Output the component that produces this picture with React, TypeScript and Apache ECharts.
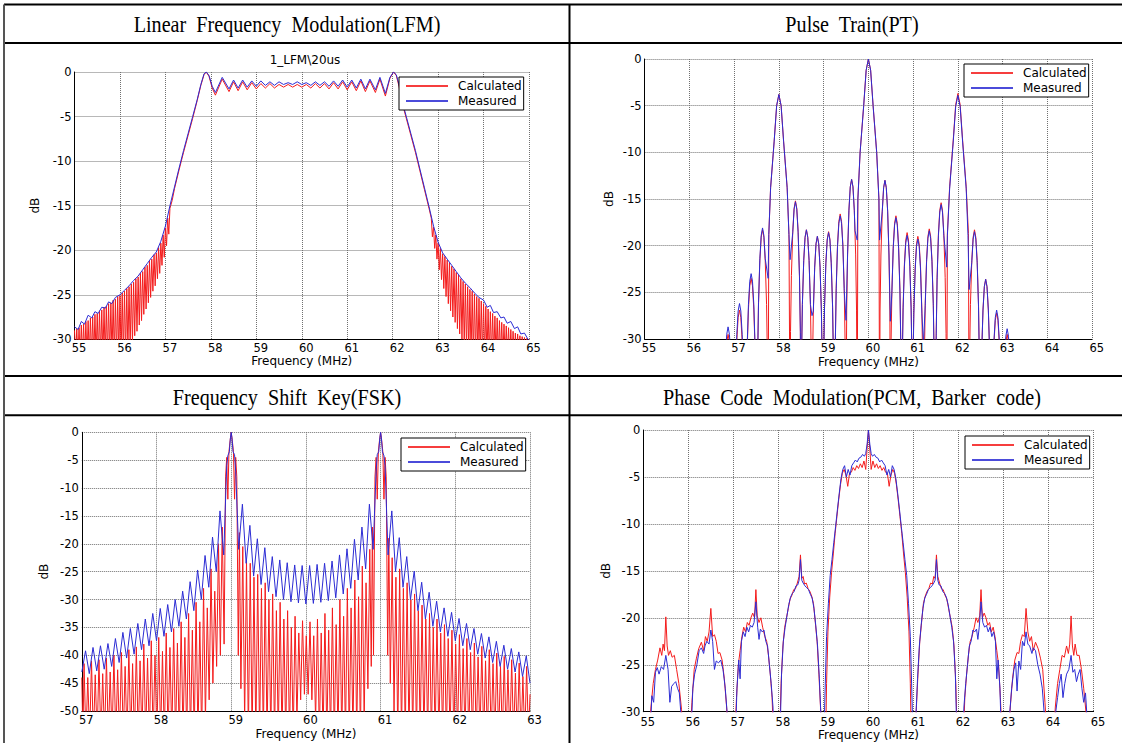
import React, { useEffect, useRef } from "react";
import * as echarts from "echarts";

type Pt = [number, number];

const RED = "#f41c1c";
const BLUE = "#2c2cd4";
const SERIES_NAMES = ["Calculated", "Measured"];

// ---------- Panel titles ----------
const panelTitles = [
  "Linear\u00a0 Frequency\u00a0 Modulation(LFM)",
  "Pulse\u00a0 Train(PT)",
  "Frequency\u00a0 Shift\u00a0 Key(FSK)",
  "Phase\u00a0 Code\u00a0 Modulation(PCM,\u00a0 Barker\u00a0 code)",
];
const lfmPlotTitle = "1_LFM\\20us";

// ---------- Axis ranges ----------
const lfmFreq = [55, 65];
const lfmDb = [-30, 0];
const ptFreq = [55, 65];
const ptDb = [-30, 0];
const fskFreq = [57, 63];
const fskDb = [-50, 0];
const pcmFreq = [55, 65];
const pcmDb = [-30, 0];

// ---------- LFM ----------
const lfmCalculated: Pt[] = [
  [55.0, -29.0], [55.025, -32], [55.05, -28.8], [55.075, -32], [55.1, -28.7], [55.125, -32], [55.15, -28.4], [55.175, -32],
  [55.2, -28.3], [55.225, -32], [55.25, -28.0], [55.275, -32], [55.3, -27.9], [55.325, -32], [55.35, -27.6], [55.375, -32],
  [55.4, -27.5], [55.425, -32], [55.45, -27.2], [55.475, -32], [55.5, -27.1], [55.525, -32], [55.55, -26.8], [55.575, -32],
  [55.6, -26.7], [55.625, -32], [55.65, -26.4], [55.675, -32], [55.7, -26.3], [55.725, -32], [55.75, -26.0], [55.775, -32],
  [55.8, -25.9], [55.825, -32], [55.85, -25.6], [55.875, -32], [55.9, -25.5], [55.925, -32], [55.95, -25.2], [55.975, -32],
  [56.0, -25.1], [56.025, -32], [56.05, -24.8], [56.075, -32], [56.1, -24.6], [56.125, -32], [56.15, -24.3], [56.175, -31.5],
  [56.2, -24.1], [56.225, -31], [56.25, -23.8], [56.275, -30.4], [56.3, -23.6], [56.325, -29.6], [56.35, -23.2], [56.375, -29.1],
  [56.4, -23.0], [56.425, -28.4], [56.45, -22.6], [56.475, -27.9], [56.5, -22.4], [56.525, -27.2], [56.55, -21.9], [56.575, -26.6],
  [56.6, -21.7], [56.625, -25.9], [56.65, -21.2], [56.675, -25.3], [56.7, -21.0], [56.725, -24.6], [56.75, -20.5], [56.775, -24.0],
  [56.8, -20.3], [56.825, -23.2], [56.85, -19.7], [56.875, -22.6], [56.9, -19.2], [56.925, -21.7], [56.95, -18.3], [56.975, -20.8],
  [57.0, -17.5], [57.025, -19.5], [57.05, -16.4], [57.075, -18.2], [57.1, -15.3], [57.15, -14.4], [57.2, -13.1], [57.3, -11.0],
  [57.4, -9.0], [57.5, -7.1], [57.6, -5.2], [57.7, -3.2], [57.78, -1.5], [57.85, -0.3], [57.9, 0], [57.96, -0.5],
  [58.03, -1.8], [58.1, -2.6], [58.25, -0.8], [58.4, -2.2], [58.5, -1.1], [58.6, -2.1], [58.7, -1.1], [58.8, -2.0],
  [58.9, -1.2], [59.0, -1.9], [59.1, -1.3], [59.2, -1.8], [59.3, -1.3], [59.4, -1.8], [59.5, -1.4], [59.6, -1.7],
  [59.7, -1.4], [59.8, -1.7], [59.9, -1.4], [60.0, -1.7], [60.1, -1.4], [60.2, -1.8], [60.3, -1.3], [60.4, -1.8],
  [60.5, -1.3], [60.6, -1.9], [60.7, -1.2], [60.8, -1.9], [60.9, -1.1], [61.0, -2.0], [61.1, -1.1], [61.2, -2.1],
  [61.3, -1.0], [61.4, -2.2], [61.5, -1.0], [61.62, -2.3], [61.72, -0.8], [61.84, -2.7], [61.94, -0.7], [62.02, 0],
  [62.08, -0.4], [62.14, -1.6], [62.2, -3.3], [62.3, -5.2], [62.4, -7.1], [62.5, -9.0], [62.6, -11.1], [62.7, -13.2],
  [62.8, -15.3], [62.85, -16.4], [62.875, -18.5], [62.9, -17.4], [62.925, -19.8], [62.95, -18.3], [62.975, -21.0], [63.0, -19.2],
  [63.025, -22.2], [63.05, -19.8], [63.075, -23.3], [63.1, -20.4], [63.125, -24.3], [63.15, -20.7], [63.175, -25.2], [63.2, -21.1],
  [63.225, -26.0], [63.25, -21.4], [63.275, -26.8], [63.3, -21.8], [63.325, -27.5], [63.35, -22.1], [63.375, -28.1], [63.4, -22.5],
  [63.425, -28.8], [63.45, -22.8], [63.475, -29.4], [63.5, -23.2], [63.525, -30.0], [63.55, -23.5], [63.575, -30.6], [63.6, -23.8],
  [63.625, -31.2], [63.65, -24.1], [63.675, -31.7], [63.7, -24.4], [63.725, -32], [63.75, -24.6], [63.775, -32], [63.8, -24.9],
  [63.825, -32], [63.85, -25.2], [63.875, -32], [63.9, -25.4], [63.925, -32], [63.95, -25.7], [63.975, -32], [64.0, -26.0],
  [64.025, -32], [64.05, -26.3], [64.075, -32], [64.1, -26.6], [64.125, -32], [64.15, -26.9], [64.175, -32], [64.2, -27.1],
  [64.225, -32], [64.25, -27.4], [64.275, -32], [64.3, -27.6], [64.325, -32], [64.35, -27.9], [64.375, -32], [64.4, -28.1],
  [64.425, -32], [64.45, -28.3], [64.475, -32], [64.5, -28.5], [64.525, -32], [64.55, -28.7], [64.575, -32], [64.6, -28.9],
  [64.625, -32], [64.65, -29.1], [64.675, -32], [64.7, -29.3], [64.725, -32], [64.75, -29.4], [64.775, -32], [64.8, -29.6],
  [64.825, -32], [64.85, -29.7], [64.875, -32], [64.9, -29.8], [64.925, -32], [64.95, -29.9], [64.975, -32], [65.0, -30.0],
];

const lfmMeasured: Pt[] = [
  [55.0, -28.6], [55.08, -28.9], [55.15, -28.0], [55.22, -28.3], [55.3, -27.3], [55.38, -27.6], [55.45, -26.9], [55.52, -27.1],
  [55.6, -26.4], [55.68, -26.5], [55.75, -25.8], [55.82, -26.0], [55.9, -25.3], [56.0, -25.0], [56.1, -24.5], [56.2, -24.0],
  [56.3, -23.4], [56.4, -22.9], [56.5, -22.2], [56.6, -21.5], [56.7, -20.8], [56.8, -20.2], [56.9, -19.0], [57.0, -17.3],
  [57.1, -15.0], [57.2, -12.9], [57.3, -10.8], [57.4, -8.8], [57.5, -6.9], [57.6, -5.0], [57.7, -3.1], [57.78, -1.4],
  [57.85, -0.2], [57.9, 0], [57.96, -0.4], [58.03, -1.6], [58.1, -2.3], [58.25, -0.6], [58.4, -1.9], [58.5, -0.9],
  [58.6, -1.8], [58.7, -0.9], [58.8, -1.7], [58.9, -1.0], [59.0, -1.6], [59.1, -1.0], [59.2, -1.5], [59.3, -1.1],
  [59.4, -1.5], [59.5, -1.1], [59.6, -1.4], [59.7, -1.2], [59.8, -1.4], [59.9, -1.1], [60.0, -1.4], [60.1, -1.2],
  [60.2, -1.5], [60.3, -1.1], [60.4, -1.5], [60.5, -1.1], [60.6, -1.6], [60.7, -1.0], [60.8, -1.6], [60.9, -0.9],
  [61.0, -1.7], [61.1, -0.9], [61.2, -1.8], [61.3, -0.8], [61.4, -1.9], [61.5, -0.8], [61.62, -2.0], [61.72, -0.6],
  [61.84, -2.4], [61.94, -0.6], [62.02, 0], [62.08, -0.3], [62.14, -1.4], [62.2, -3.1], [62.3, -5.0], [62.4, -6.9],
  [62.5, -8.8], [62.6, -10.9], [62.7, -13.0], [62.8, -15.1], [62.9, -17.3], [63.0, -19.1], [63.1, -20.3], [63.2, -21.0],
  [63.3, -21.7], [63.4, -22.4], [63.5, -23.1], [63.6, -23.7], [63.7, -24.2], [63.8, -24.8], [63.9, -25.3], [64.0, -25.6],
  [64.08, -26.4], [64.15, -26.2], [64.22, -27.0], [64.3, -26.9], [64.38, -27.6], [64.45, -27.5], [64.52, -28.2], [64.6, -28.0],
  [64.68, -28.8], [64.75, -28.6], [64.82, -29.4], [64.9, -29.3], [65.0, -30.2],
];

// ---------- Pulse train ----------
const ptCalculated: Pt[] = [
  [56.74, -40], [56.8, -33], [56.835, -30.3], [56.865, -29.5], [56.895, -30.3], [56.93, -33], [56.99, -40],
  [57.03, -34.9], [57.06, -30.2], [57.09, -27.7], [57.12, -26.9], [57.15, -27.7], [57.18, -30.2], [57.21, -34.9], [57.25, -40],
  [57.27, -37.5], [57.29, -31.5], [57.32, -26.8], [57.35, -24.3], [57.38, -23.5], [57.41, -24.3], [57.44, -26.8], [57.47, -31.5], [57.49, -37.5], [57.51, -40],
  [57.525, -32.3], [57.545, -26.3], [57.575, -21.6], [57.605, -19.1], [57.635, -18.3], [57.665, -19.1], [57.695, -21.6], [57.725, -26.3], [57.745, -32.3], [57.76, -40],
  [57.775, -18.8], [57.815, -13.8], [57.895, -8.8], [57.95, -5.0], [58.0, -3.8], [58.05, -5.0], [58.105, -8.8], [58.185, -13.8], [58.225, -18.8], [58.25, -40],
  [58.26, -29.2], [58.28, -23.2], [58.31, -18.5], [58.34, -16.0], [58.37, -15.2], [58.4, -16.0], [58.43, -18.5], [58.46, -23.2], [58.48, -29.2], [58.49, -40],
  [58.505, -32.3], [58.525, -26.3], [58.555, -21.6], [58.585, -19.1], [58.615, -18.3], [58.645, -19.1], [58.675, -21.6], [58.705, -26.3], [58.725, -32.3], [58.74, -40],
  [58.75, -33], [58.77, -27], [58.8, -22.3], [58.83, -19.8], [58.86, -19.0], [58.89, -19.8], [58.92, -22.3], [58.95, -27], [58.97, -33], [58.985, -40],
  [59.0, -32.5], [59.02, -26.5], [59.05, -21.8], [59.08, -19.3], [59.11, -18.5], [59.14, -19.3], [59.17, -21.8], [59.2, -26.5], [59.22, -32.5], [59.24, -40],
  [59.26, -30.6], [59.28, -24.6], [59.31, -19.9], [59.34, -17.4], [59.37, -16.6], [59.4, -17.4], [59.43, -19.9], [59.46, -24.6], [59.48, -30.6], [59.5, -40],
  [59.515, -26.9], [59.535, -20.9], [59.565, -16.2], [59.595, -13.7], [59.625, -12.9], [59.655, -13.7], [59.685, -16.2], [59.715, -20.9], [59.735, -26.9], [59.75, -40],
  [59.765, -15], [59.815, -10], [59.895, -5], [59.95, -1.2], [60.0, 0], [60.05, -1.2], [60.105, -5], [60.185, -10], [60.235, -15], [60.25, -40],
  [60.26, -27], [60.28, -21], [60.31, -16.3], [60.34, -13.8], [60.37, -13.0], [60.4, -13.8], [60.43, -16.3], [60.46, -21], [60.48, -27], [60.49, -40],
  [60.505, -30.8], [60.525, -24.8], [60.555, -20.1], [60.585, -17.6], [60.615, -16.8], [60.645, -17.6], [60.675, -20.1], [60.705, -24.8], [60.725, -30.8], [60.74, -40],
  [60.755, -32.6], [60.775, -26.6], [60.805, -21.9], [60.835, -19.4], [60.865, -18.6], [60.895, -19.4], [60.925, -21.9], [60.955, -26.6], [60.975, -32.6], [60.985, -40],
  [60.995, -33], [61.015, -27], [61.045, -22.3], [61.075, -19.8], [61.105, -19.0], [61.135, -19.8], [61.165, -22.3], [61.195, -27], [61.215, -33], [61.23, -40],
  [61.25, -32.2], [61.27, -26.2], [61.3, -21.5], [61.33, -19.0], [61.36, -18.2], [61.39, -19.0], [61.42, -21.5], [61.45, -26.2], [61.47, -32.2], [61.495, -40],
  [61.515, -29.4], [61.535, -23.4], [61.565, -18.7], [61.595, -16.2], [61.625, -15.4], [61.655, -16.2], [61.685, -18.7], [61.715, -23.4], [61.735, -29.4], [61.75, -40],
  [61.765, -18.7], [61.815, -13.7], [61.895, -8.7], [61.95, -4.9], [62.0, -3.7], [62.05, -4.9], [62.105, -8.7], [62.185, -13.7], [62.235, -18.7], [62.25, -40],
  [62.26, -32.3], [62.28, -26.3], [62.31, -21.6], [62.34, -19.1], [62.37, -18.3], [62.4, -19.1], [62.43, -21.6], [62.46, -26.3], [62.48, -32.3], [62.49, -40],
  [62.51, -37.6], [62.53, -31.6], [62.56, -26.9], [62.59, -24.4], [62.62, -23.6], [62.65, -24.4], [62.68, -26.9], [62.71, -31.6], [62.73, -37.6], [62.745, -40],
  [62.775, -35.2], [62.805, -30.5], [62.835, -28.0], [62.865, -27.2], [62.895, -28.0], [62.925, -30.5], [62.955, -35.2], [62.985, -40],
  [63.04, -33], [63.07, -30.3], [63.1, -29.5], [63.13, -30.3], [63.16, -33], [63.22, -40],
];

const ptMeasured: Pt[] = [
  [56.74, -40], [56.8, -32.2], [56.835, -29.5], [56.865, -28.7], [56.895, -29.5], [56.93, -32.2], [56.99, -40],
  [57.03, -34.2], [57.06, -29.5], [57.09, -27.0], [57.12, -26.2], [57.15, -27.0], [57.18, -29.5], [57.21, -34.2], [57.25, -40],
  [57.27, -37], [57.29, -31], [57.32, -26.3], [57.35, -23.8], [57.38, -23.0], [57.41, -23.8], [57.44, -26.3], [57.47, -31], [57.49, -35], [57.51, -36],
  [57.525, -32.1], [57.545, -26.1], [57.575, -21.4], [57.605, -18.9], [57.635, -18.1], [57.665, -18.9], [57.695, -21.4], [57.76, -23.5],
  [57.775, -18.8], [57.815, -13.8], [57.895, -8.8], [57.95, -5.0], [58.0, -3.8], [58.05, -5.0], [58.105, -8.8], [58.185, -13.8], [58.225, -18.8], [58.25, -21.5],
  [58.31, -18.6], [58.34, -16.1], [58.37, -15.3], [58.4, -16.1], [58.43, -18.6], [58.46, -23.3], [58.48, -29.3], [58.49, -40],
  [58.505, -32.3], [58.525, -26.3], [58.555, -21.6], [58.585, -19.1], [58.615, -18.3], [58.645, -19.1], [58.675, -21.6], [58.705, -26.3], [58.74, -27.5],
  [58.77, -27], [58.8, -22.3], [58.83, -19.8], [58.86, -19.0], [58.89, -19.8], [58.92, -22.3], [58.95, -27], [58.97, -33], [58.985, -40],
  [59.0, -32.6], [59.02, -26.6], [59.05, -21.9], [59.08, -19.4], [59.11, -18.6], [59.14, -19.4], [59.17, -21.9], [59.2, -26.6], [59.22, -32.6], [59.24, -40],
  [59.26, -30.8], [59.28, -24.8], [59.31, -20.1], [59.34, -17.6], [59.37, -16.8], [59.4, -17.6], [59.43, -20.1], [59.46, -24.8], [59.5, -28.0],
  [59.535, -20.9], [59.565, -16.2], [59.595, -13.7], [59.625, -12.9], [59.655, -13.7], [59.685, -16.2], [59.7, -18.4], [59.75, -19.4],
  [59.765, -15], [59.815, -10], [59.895, -5], [59.95, -1.2], [60.0, 0], [60.05, -1.2], [60.105, -5], [60.185, -10], [60.235, -15], [60.25, -19.4],
  [60.31, -16.3], [60.34, -13.8], [60.37, -13.0], [60.4, -13.8], [60.43, -16.3], [60.46, -21.0], [60.49, -28.1],
  [60.525, -25.0], [60.555, -20.3], [60.585, -17.8], [60.615, -17.0], [60.645, -17.8], [60.675, -20.3], [60.705, -25.0], [60.725, -31], [60.74, -40],
  [60.755, -32.9], [60.775, -26.9], [60.805, -22.2], [60.835, -19.7], [60.865, -18.9], [60.895, -19.7], [60.925, -22.2], [60.955, -26.9], [60.975, -32.9], [60.985, -40],
  [60.995, -33.3], [61.015, -27.3], [61.045, -22.6], [61.075, -20.1], [61.105, -19.3], [61.135, -20.1], [61.165, -22.6], [61.195, -27.3], [61.23, -30.5],
  [61.27, -26.4], [61.3, -21.7], [61.33, -19.2], [61.36, -18.4], [61.39, -19.2], [61.42, -21.7], [61.45, -26.4], [61.47, -32.4], [61.495, -40],
  [61.515, -29.6], [61.535, -23.6], [61.565, -18.9], [61.595, -16.4], [61.625, -15.6], [61.655, -16.4], [61.685, -18.9], [61.75, -22.3],
  [61.765, -18.9], [61.815, -13.9], [61.895, -8.9], [61.95, -5.1], [62.0, -3.9], [62.05, -5.1], [62.105, -8.9], [62.185, -13.9], [62.225, -18.9], [62.25, -24.7],
  [62.31, -21.8], [62.34, -19.3], [62.37, -18.5], [62.4, -19.3], [62.43, -21.8], [62.46, -26.5], [62.48, -32.5], [62.49, -40],
  [62.51, -37.6], [62.53, -31.6], [62.56, -26.9], [62.59, -24.4], [62.62, -23.6], [62.65, -24.4], [62.68, -26.9], [62.71, -31.6], [62.73, -37.6], [62.745, -40],
  [62.775, -34.9], [62.805, -30.2], [62.835, -27.7], [62.865, -26.9], [62.895, -27.7], [62.925, -30.2], [62.955, -34.9], [62.985, -40],
  [63.04, -32.4], [63.07, -29.7], [63.1, -28.9], [63.13, -29.7], [63.16, -32.4], [63.22, -40],
];

// ---------- FSK ----------
const fskCalculated: Pt[] = [
  [57.0, -44.0], [57.015, -55], [57.03, -41.5], [57.055, -55], [57.08, -44.0], [57.105, -55], [57.13, -41.0], [57.155, -55],
  [57.18, -43.5], [57.205, -55], [57.23, -40.8], [57.255, -55], [57.28, -43.3], [57.305, -55], [57.33, -40.5], [57.355, -55],
  [57.38, -43.0], [57.405, -55], [57.43, -40.0], [57.455, -55], [57.48, -42.6], [57.505, -55], [57.53, -39.5], [57.555, -55],
  [57.58, -42.0], [57.605, -55], [57.63, -39.0], [57.655, -55], [57.68, -41.5], [57.705, -55], [57.73, -38.5], [57.755, -55],
  [57.78, -41.0], [57.805, -55], [57.83, -38.0], [57.855, -55], [57.88, -40.5], [57.905, -55], [57.93, -37.4], [57.955, -55],
  [57.98, -40.0], [58.005, -55], [58.03, -36.8], [58.055, -55], [58.08, -39.3], [58.105, -55], [58.13, -36.0], [58.155, -55],
  [58.18, -38.6], [58.205, -55], [58.23, -35.2], [58.255, -55], [58.28, -37.8], [58.305, -55], [58.33, -34.0], [58.355, -55],
  [58.38, -36.8], [58.405, -55], [58.43, -32.5], [58.455, -55], [58.48, -35.5], [58.505, -55], [58.53, -30.5], [58.555, -55],
  [58.58, -34.0], [58.605, -55], [58.63, -28.0], [58.655, -52], [58.68, -31.5], [58.705, -48], [58.73, -24.5], [58.755, -45],
  [58.78, -28.5], [58.805, -42], [58.83, -20.0], [58.855, -40], [58.88, -17.0], [58.905, -38],
  [58.925, -8], [58.94, -4.5], [58.955, -12], [58.97, -3.5], [58.985, -1.5], [59.0, 0], [59.015, -1.5], [59.03, -3.5],
  [59.045, -12], [59.06, -4.5], [59.075, -8], [59.095, -40], [59.11, -18.0], [59.13, -46],
  [59.155, -20.5], [59.18, -52], [59.205, -23.0], [59.23, -55], [59.255, -23.5], [59.28, -55], [59.305, -26.0], [59.33, -55],
  [59.355, -25.5], [59.38, -55], [59.405, -28.0], [59.43, -55], [59.455, -27.0], [59.48, -55], [59.505, -30.0], [59.53, -55],
  [59.555, -29.0], [59.58, -55], [59.605, -32.0], [59.63, -55], [59.655, -30.5], [59.68, -55], [59.705, -33.5], [59.73, -55],
  [59.755, -32.0], [59.78, -55], [59.805, -35.0], [59.83, -55], [59.855, -33.0], [59.88, -52], [59.905, -36.0], [59.93, -48],
  [59.955, -33.8], [59.98, -47], [60.005, -36.5], [60.03, -47], [60.055, -34.0], [60.08, -48], [60.105, -36.5], [60.13, -52],
  [60.155, -33.5], [60.18, -55], [60.205, -36.0], [60.23, -55], [60.255, -32.5], [60.28, -55], [60.305, -35.5], [60.33, -55],
  [60.355, -31.5], [60.38, -55], [60.405, -34.5], [60.43, -55], [60.455, -30.0], [60.48, -55], [60.505, -33.0], [60.53, -55],
  [60.555, -28.0], [60.58, -55], [60.605, -31.5], [60.63, -55], [60.655, -26.5], [60.68, -55], [60.705, -29.5], [60.73, -55],
  [60.755, -24.0], [60.78, -52], [60.805, -27.0], [60.83, -46], [60.855, -21.0], [60.875, -42], [60.89, -17.0], [60.905, -40],
  [60.925, -8], [60.94, -4.5], [60.955, -12], [60.97, -3.5], [60.985, -1.5], [61.0, 0], [61.015, -1.5], [61.03, -3.5],
  [61.045, -12], [61.06, -4.5], [61.075, -8], [61.095, -40], [61.11, -19.0], [61.13, -45],
  [61.155, -22.5], [61.18, -50], [61.205, -26.0], [61.23, -55], [61.255, -24.5], [61.28, -55], [61.305, -28.0], [61.33, -55],
  [61.355, -27.0], [61.38, -55], [61.405, -30.0], [61.43, -55], [61.455, -29.0], [61.48, -55], [61.505, -32.0], [61.53, -55],
  [61.555, -31.0], [61.58, -55], [61.605, -33.5], [61.63, -55], [61.655, -32.5], [61.68, -55], [61.705, -35.0], [61.73, -55],
  [61.755, -33.5], [61.78, -55], [61.805, -36.0], [61.83, -55], [61.855, -34.5], [61.88, -55], [61.905, -37.0], [61.93, -55],
  [61.955, -35.5], [61.98, -55], [62.005, -38.0], [62.03, -55], [62.055, -36.3], [62.08, -55], [62.105, -38.8], [62.13, -55],
  [62.155, -37.0], [62.18, -55], [62.205, -39.5], [62.23, -55], [62.255, -37.8], [62.28, -55], [62.305, -40.3], [62.33, -55],
  [62.355, -38.4], [62.38, -55], [62.405, -41.0], [62.43, -55], [62.455, -39.0], [62.48, -55], [62.505, -41.5], [62.53, -55],
  [62.555, -39.6], [62.58, -55], [62.605, -42.0], [62.63, -55], [62.655, -40.2], [62.68, -55], [62.705, -42.6], [62.73, -55],
  [62.755, -40.8], [62.78, -55], [62.805, -43.2], [62.83, -55], [62.855, -41.4], [62.88, -55], [62.905, -43.8], [62.93, -55],
  [62.955, -42.0], [62.98, -55], [63.0, -47.0],
];

const fskMeasured: Pt[] = [
  [57.0, -43.0], [57.05, -39.2], [57.1, -43.3], [57.15, -38.6], [57.2, -42.8], [57.25, -38.3], [57.3, -42.5], [57.35, -37.9],
  [57.4, -42.0], [57.45, -37.0], [57.5, -41.3], [57.55, -35.9], [57.6, -40.5], [57.65, -35.2], [57.7, -39.8], [57.75, -34.3],
  [57.8, -39.0], [57.85, -33.5], [57.9, -38.3], [57.95, -32.5], [58.0, -37.4], [58.05, -31.6], [58.1, -36.6], [58.15, -30.9],
  [58.2, -35.8], [58.25, -30.0], [58.3, -34.8], [58.35, -28.5], [58.4, -33.5], [58.45, -26.8], [58.5, -32.0], [58.55, -24.7],
  [58.6, -30.0], [58.65, -22.1], [58.7, -27.8], [58.75, -18.8], [58.8, -25.0], [58.85, -14.1], [58.9, -22.0],
  [58.94, -6], [58.955, -4.2], [58.975, -3.5], [58.99, -1], [59.0, 0], [59.01, -1], [59.025, -3.5], [59.045, -4.0], [59.06, -7], [59.1, -21.0],
  [59.15, -12.9], [59.2, -23.5], [59.25, -16.7], [59.3, -25.8], [59.35, -19.1], [59.4, -27.3], [59.45, -20.7], [59.5, -28.6],
  [59.55, -22.3], [59.6, -29.5], [59.65, -22.9], [59.7, -30.0], [59.75, -23.4], [59.8, -30.4], [59.85, -23.8], [59.9, -30.6],
  [59.95, -23.9], [60.0, -30.8], [60.05, -23.9], [60.1, -30.7], [60.15, -23.7], [60.2, -30.5], [60.25, -23.5], [60.3, -30.2],
  [60.35, -23.1], [60.4, -29.7], [60.45, -22.0], [60.5, -29.0], [60.55, -20.9], [60.6, -28.0], [60.65, -19.2], [60.7, -26.5],
  [60.75, -17.0], [60.8, -24.5], [60.85, -12.9], [60.9, -21.0],
  [60.94, -7], [60.955, -4.0], [60.975, -3.5], [60.99, -1], [61.0, 0], [61.01, -1], [61.025, -3.5], [61.045, -4.2], [61.06, -6], [61.1, -22.0],
  [61.15, -14.1], [61.2, -25.0], [61.25, -18.9], [61.3, -27.8], [61.35, -22.3], [61.4, -30.0], [61.45, -24.9], [61.5, -32.0],
  [61.55, -26.9], [61.6, -33.5], [61.65, -28.7], [61.7, -34.8], [61.75, -30.3], [61.8, -35.8], [61.85, -31.5], [61.9, -36.6],
  [61.95, -32.3], [62.0, -37.4], [62.05, -33.4], [62.1, -38.3], [62.15, -34.3], [62.2, -39.0], [62.25, -35.2], [62.3, -39.8],
  [62.35, -36.1], [62.4, -40.5], [62.45, -36.7], [62.5, -41.3], [62.55, -37.5], [62.6, -42.0], [62.65, -38.2], [62.7, -42.5],
  [62.75, -38.8], [62.8, -43.0], [62.85, -39.4], [62.9, -43.8], [62.95, -40.1], [63.0, -45.0],
];

// ---------- PCM ----------
const pcmCalculated: Pt[] = [
  [55.1, -34], [55.17, -29.5], [55.22, -27.0], [55.27, -25.5], [55.32, -24.5], [55.37, -23.2], [55.41, -24.0], [55.44, -22.8],
  [55.47, -23.5], [55.5, -19.9], [55.53, -23.0], [55.56, -24.0], [55.6, -23.5], [55.64, -24.2], [55.69, -24.0], [55.74, -25.5],
  [55.79, -27.0], [55.85, -29.8], [55.9, -34],
  [56.02, -34], [56.08, -29], [56.13, -25.5], [56.18, -24.3], [56.23, -23.3], [56.29, -22.6], [56.34, -23.5], [56.38, -22.0],
  [56.42, -22.5], [56.46, -21.5], [56.5, -19.0], [56.54, -22.0], [56.58, -21.8], [56.62, -22.5], [56.66, -23.8], [56.7, -23.7],
  [56.75, -24.5], [56.8, -26.5], [56.85, -29.5], [56.9, -34],
  [57.02, -34], [57.07, -28.5], [57.11, -25.0], [57.15, -23.5], [57.19, -22.0], [57.23, -21.0], [57.27, -21.5], [57.31, -20.5],
  [57.35, -20.8], [57.39, -20.0], [57.43, -19.5], [57.47, -20.0], [57.5, -17.0], [57.53, -19.8], [57.57, -20.5], [57.61, -20.0],
  [57.65, -21.0], [57.7, -22.0], [57.74, -22.5], [57.78, -24.0], [57.82, -26.0], [57.86, -28.5], [57.9, -34],
  [58.02, -34], [58.06, -27], [58.1, -23], [58.14, -21.0], [58.18, -20.0], [58.22, -19.0], [58.26, -18.0], [58.3, -17.6],
  [58.34, -17.0], [58.38, -16.9], [58.42, -16.3], [58.46, -15.6], [58.49, -13.3], [58.52, -15.8], [58.55, -15.6], [58.58, -16.4],
  [58.62, -16.3], [58.66, -16.9], [58.7, -17.2], [58.74, -17.7], [58.78, -18.5], [58.82, -20.5], [58.86, -22.5], [58.9, -26.0],
  [58.94, -30], [58.97, -36],
  [59.04, -36], [59.07, -27], [59.1, -21.5], [59.14, -17.8], [59.18, -15.2], [59.22, -13.2], [59.26, -11.0], [59.3, -9.2],
  [59.34, -7.4], [59.38, -5.8], [59.42, -4.6], [59.46, -4.2], [59.5, -4.8], [59.54, -6.0], [59.58, -4.6], [59.62, -4.5],
  [59.66, -4.0], [59.7, -4.3], [59.74, -3.8], [59.78, -4.1], [59.82, -3.6], [59.86, -4.0], [59.9, -3.3], [59.94, -4.2],
  [59.97, -2.0], [60.0, 0], [60.03, -2.0], [60.06, -4.2], [60.1, -3.3], [60.14, -4.0], [60.18, -3.6], [60.22, -4.1],
  [60.26, -3.8], [60.3, -4.3], [60.34, -4.0], [60.38, -4.5], [60.42, -4.6], [60.46, -6.0], [60.5, -4.8], [60.54, -4.2],
  [60.58, -4.6], [60.62, -5.8], [60.66, -7.4], [60.7, -9.2], [60.74, -11.0], [60.78, -13.2], [60.82, -15.2], [60.86, -17.8],
  [60.9, -21.5], [60.93, -27], [60.96, -36],
  [61.03, -36], [61.06, -30], [61.1, -26.0], [61.14, -22.5], [61.18, -20.5], [61.22, -18.5], [61.26, -17.7], [61.3, -17.2],
  [61.34, -16.9], [61.38, -16.3], [61.42, -16.4], [61.45, -15.6], [61.48, -15.8], [61.51, -13.3], [61.54, -15.6], [61.58, -16.3],
  [61.62, -16.9], [61.66, -17.0], [61.7, -17.6], [61.74, -18.0], [61.78, -19.0], [61.82, -20.0], [61.86, -21.0], [61.9, -23],
  [61.94, -27], [61.98, -34],
  [62.1, -34], [62.14, -28.5], [62.18, -26.0], [62.22, -24.0], [62.26, -22.5], [62.3, -22.0], [62.35, -21.0], [62.39, -20.0],
  [62.43, -20.5], [62.47, -19.8], [62.5, -17.0], [62.53, -20.0], [62.57, -19.5], [62.61, -20.0], [62.65, -20.8], [62.69, -20.5],
  [62.73, -21.5], [62.77, -21.0], [62.81, -22.0], [62.85, -23.5], [62.89, -25.0], [62.93, -28.5], [62.98, -34],
  [63.1, -34], [63.15, -29.5], [63.2, -26.5], [63.25, -24.5], [63.3, -23.7], [63.34, -23.8], [63.38, -22.5], [63.42, -21.8],
  [63.46, -22.0], [63.5, -19.0], [63.54, -21.5], [63.58, -22.5], [63.62, -22.0], [63.66, -23.5], [63.71, -22.6], [63.77, -23.3],
  [63.82, -24.3], [63.87, -25.5], [63.92, -29], [63.98, -34],
  [64.1, -34], [64.15, -29.5], [64.2, -27.0], [64.25, -25.5], [64.3, -24.0], [64.35, -24.2], [64.4, -23.0], [64.44, -23.8],
  [64.47, -22.8], [64.5, -19.8], [64.53, -23.0], [64.56, -24.0], [64.59, -22.8], [64.63, -24.0], [64.68, -24.0], [64.73, -25.5],
  [64.78, -27.5], [64.83, -30], [64.88, -34],
];

const pcmMeasured: Pt[] = [
  [55.14, -34], [55.19, -28.3], [55.23, -29.0], [55.27, -25.8], [55.31, -25.3], [55.35, -26.0], [55.4, -25.2], [55.45, -25.5],
  [55.5, -24.0], [55.55, -25.5], [55.59, -29.0], [55.63, -27.3], [55.68, -27.0], [55.72, -26.8], [55.76, -27.5], [55.8, -28.0],
  [55.84, -30.5], [55.88, -34],
  [56.05, -34], [56.1, -27.5], [56.14, -26.0], [56.19, -25.0], [56.24, -23.5], [56.29, -23.2], [56.34, -23.8], [56.37, -23.0],
  [56.41, -22.5], [56.46, -22.8], [56.5, -21.3], [56.54, -22.5], [56.58, -25.5], [56.62, -24.6], [56.67, -24.8], [56.72, -24.5],
  [56.77, -25.5], [56.82, -27.5], [56.86, -30], [56.89, -34],
  [57.04, -34], [57.08, -27.5], [57.12, -24.5], [57.15, -26.5], [57.18, -22.5], [57.22, -21.5], [57.26, -22.0], [57.3, -21.0],
  [57.34, -21.5], [57.38, -20.8], [57.42, -21.0], [57.46, -20.5], [57.5, -18.3], [57.54, -21.0], [57.57, -22.3], [57.6, -21.2],
  [57.64, -21.5], [57.68, -21.3], [57.72, -22.5], [57.76, -23.0], [57.8, -25.0], [57.84, -27.0], [57.88, -29.5], [57.91, -34],
  [58.03, -34], [58.07, -26], [58.11, -22.5], [58.15, -21.0], [58.19, -19.8], [58.23, -18.6], [58.27, -17.8], [58.31, -17.4],
  [58.35, -17.2], [58.39, -16.6], [58.43, -16.5], [58.46, -16.0], [58.49, -13.8], [58.52, -16.0], [58.55, -16.3], [58.59, -16.6],
  [58.63, -16.8], [58.67, -17.0], [58.71, -17.5], [58.75, -17.9], [58.79, -19.0], [58.83, -20.8], [58.87, -23.0], [58.91, -26.5],
  [58.95, -31], [58.97, -36],
  [59.0, -36], [59.03, -29], [59.07, -22], [59.11, -18.5], [59.15, -15.5], [59.19, -13.8], [59.23, -12.0], [59.27, -10.3],
  [59.31, -8.5], [59.35, -6.8], [59.39, -5.2], [59.43, -4.2], [59.47, -3.8], [59.51, -5.0], [59.55, -4.2], [59.59, -4.8],
  [59.63, -3.8], [59.67, -3.5], [59.71, -3.2], [59.75, -3.4], [59.79, -3.0], [59.83, -2.9], [59.87, -2.6], [59.91, -2.8],
  [59.94, -2.5], [59.97, -1.5], [60.0, 0], [60.03, -1.5], [60.06, -2.5], [60.09, -2.8], [60.13, -2.6], [60.17, -2.9],
  [60.21, -3.0], [60.25, -3.4], [60.29, -3.2], [60.33, -3.5], [60.37, -3.8], [60.41, -4.8], [60.45, -4.2], [60.49, -5.0],
  [60.53, -3.8], [60.57, -4.2], [60.61, -5.2], [60.65, -6.8], [60.69, -8.5], [60.73, -10.3], [60.77, -12.0], [60.81, -13.8],
  [60.85, -15.5], [60.89, -18.5], [60.93, -22], [60.97, -29], [61.0, -36],
  [61.03, -36], [61.05, -31], [61.09, -26.5], [61.13, -23.0], [61.17, -20.8], [61.21, -19.0], [61.25, -17.9], [61.29, -17.5],
  [61.33, -17.0], [61.37, -16.8], [61.41, -16.6], [61.45, -16.3], [61.48, -16.0], [61.51, -13.8], [61.54, -16.0], [61.57, -16.5],
  [61.61, -16.6], [61.65, -17.2], [61.69, -17.4], [61.73, -17.8], [61.77, -18.6], [61.81, -19.8], [61.85, -21.0], [61.89, -22.5],
  [61.93, -26], [61.97, -34],
  [62.09, -34], [62.12, -29.5], [62.16, -27.0], [62.2, -25.0], [62.24, -23.0], [62.28, -22.5], [62.32, -21.3], [62.36, -21.5],
  [62.4, -21.2], [62.43, -22.3], [62.46, -21.0], [62.5, -18.3], [62.54, -20.5], [62.58, -21.0], [62.62, -20.8], [62.66, -21.5],
  [62.7, -21.0], [62.74, -22.0], [62.78, -21.5], [62.82, -22.5], [62.85, -26.5], [62.88, -24.5], [62.92, -27.5], [62.96, -34],
  [63.11, -34], [63.14, -30], [63.18, -27.5], [63.23, -25.5], [63.27, -24.8], [63.3, -27.8], [63.34, -24.6], [63.38, -25.5],
  [63.42, -22.5], [63.46, -23.0], [63.5, -21.5], [63.54, -22.8], [63.58, -23.0], [63.63, -23.8], [63.66, -23.2], [63.71, -23.5],
  [63.76, -25.0], [63.81, -26.0], [63.86, -27.5], [63.9, -30], [63.95, -34],
  [64.12, -34], [64.16, -30], [64.2, -28.5], [64.24, -27.0], [64.28, -26.0], [64.32, -28.5], [64.36, -27.0], [64.4, -26.0],
  [64.45, -25.5], [64.5, -24.0], [64.54, -25.8], [64.58, -25.5], [64.62, -26.8], [64.66, -26.0], [64.7, -25.5], [64.74, -27.5],
  [64.78, -29.0], [64.82, -28.0], [64.86, -31], [64.9, -34],
];

// ---------- Layout ----------
const FONT = "DejaVu Sans";
const layouts = [
  { grid: { left: 74.5, top: 72, width: 454.5, height: 267.3 }, yGap: 34, xGap: 15, xMargin: 3, legend: { left: 399, top: 77 } },
  { grid: { left: 644.6, top: 59, width: 447.6, height: 280 }, yGap: 30, xGap: 16.5, xMargin: 3, legend: { left: 964, top: 64 } },
  { grid: { left: 81.8, top: 432.3, width: 448.2, height: 278.7 }, yGap: 32, xGap: 17, xMargin: 3, legend: { left: 401, top: 438 } },
  { grid: { left: 643.3, top: 430, width: 450.3, height: 281.7 }, yGap: 31, xGap: 17, xMargin: 4, legend: { left: 965, top: 436 } },
];

const panelData = [
  { xr: lfmFreq, yr: lfmDb, calc: lfmCalculated, meas: lfmMeasured },
  { xr: ptFreq, yr: ptDb, calc: ptCalculated, meas: ptMeasured },
  { xr: fskFreq, yr: fskDb, calc: fskCalculated, meas: fskMeasured },
  { xr: pcmFreq, yr: pcmDb, calc: pcmCalculated, meas: pcmMeasured },
];

function buildOption() {
  const grid: any[] = [];
  const xAxis: any[] = [];
  const yAxis: any[] = [];
  const series: any[] = [];
  const legend: any[] = [];
  const splitStyle = { show: true, lineStyle: { color: "#707070", type: "dotted", width: 1 } };

  panelData.forEach((p, i) => {
    const L = layouts[i];
    grid.push({ ...L.grid, containLabel: false });
    xAxis.push({
      type: "value",
      gridIndex: i,
      min: p.xr[0],
      max: p.xr[1],
      interval: 1,
      name: "Frequency (MHz)",
      nameLocation: "middle",
      nameGap: L.xGap,
      nameTextStyle: { fontFamily: FONT, fontSize: 12, color: "#000" },
      axisLine: { show: true, onZero: false, lineStyle: { color: "#000", width: 1 } },
      axisTick: { show: false },
      axisLabel: { fontFamily: FONT, fontSize: 11.5, color: "#000", margin: L.xMargin, padding: [0, 0, 0, 9] },
      splitLine: splitStyle,
    });
    yAxis.push({
      type: "value",
      gridIndex: i,
      min: p.yr[0],
      max: p.yr[1],
      interval: 5,
      name: "dB",
      nameLocation: "middle",
      nameRotate: 90,
      nameGap: L.yGap,
      nameTextStyle: { fontFamily: FONT, fontSize: 12, color: "#000" },
      axisLine: { show: true, onZero: false, lineStyle: { color: "#000", width: 1 } },
      axisTick: { show: false },
      axisLabel: { fontFamily: FONT, fontSize: 11.5, color: "#000", margin: 3 },
      splitLine: splitStyle,
    });
    series.push({
      type: "line",
      name: SERIES_NAMES[0],
      xAxisIndex: i,
      yAxisIndex: i,
      data: p.calc,
      symbol: "none",
      showSymbol: false,
      clip: true,
      silent: true,
      lineStyle: { color: RED, width: 1 },
      itemStyle: { color: RED },
    });
    series.push({
      type: "line",
      name: SERIES_NAMES[1],
      xAxisIndex: i,
      yAxisIndex: i,
      data: p.meas,
      symbol: "none",
      showSymbol: false,
      clip: true,
      silent: true,
      lineStyle: { color: BLUE, width: 1 },
      itemStyle: { color: BLUE },
    });
    legend.push({
      orient: "vertical",
      left: L.legend.left,
      top: L.legend.top,
      data: SERIES_NAMES,
      icon: "rect",
      itemWidth: 42,
      itemHeight: 2,
      itemGap: 3,
      padding: [3, 2, 3, 7],
      backgroundColor: "#fff",
      borderColor: "#000",
      borderWidth: 1,
      borderRadius: 0,
      selectedMode: false,
      itemStyle: { opacity: 0.85 },
      textStyle: { fontFamily: FONT, fontSize: 12, color: "#000", padding: [0, 0, 0, 5] },
    });
  });

  const tableLine = (x1: number, y1: number, x2: number, y2: number, color = "#000") => ({
    type: "line",
    silent: true,
    shape: { x1, y1, x2, y2 },
    style: { stroke: color, lineWidth: 2 },
  });
  const titleText = (text: string, x: number, y: number) => ({
    type: "text",
    x,
    y,
    scaleX: 0.84,
    silent: true,
    style: {
      text,
      font: '24px "Liberation Serif"',
      fill: "#000",
      textAlign: "center",
      align: "center",
      textVerticalAlign: "middle",
      verticalAlign: "middle",
    },
  });

  const graphic = [
    tableLine(4, 4.5, 1122, 4.5),
    tableLine(4, 43, 1122, 43),
    tableLine(4, 376, 1122, 376),
    tableLine(4, 415.3, 1122, 415.3),
    tableLine(4, 4.5, 4, 743, "#555"),
    tableLine(569.5, 4.5, 569.5, 743),
    titleText(panelTitles[0], 287, 24),
    titleText(panelTitles[1], 852, 24),
    titleText(panelTitles[2], 287, 396.5),
    titleText(panelTitles[3], 852, 396.5),
    {
      type: "text",
      x: 305,
      y: 60,
      silent: true,
      style: {
        text: lfmPlotTitle,
        font: '12px "DejaVu Sans"',
        fill: "#000",
        textAlign: "center",
        align: "center",
        textVerticalAlign: "middle",
        verticalAlign: "middle",
      },
    },
  ];

  return {
    animation: false,
    backgroundColor: "#fff",
    grid,
    xAxis,
    yAxis,
    series,
    legend,
    graphic,
  };
}

export default function App() {
  const ref = useRef<HTMLDivElement>(null);
  useEffect(() => {
    if (!ref.current) return;
    const chart = echarts.init(ref.current, null, { renderer: "svg" });
    chart.setOption(buildOption() as any);
    return () => chart.dispose();
  }, []);
  return (
    <div
      ref={ref}
      style={{ position: "fixed", left: 0, top: 0, width: 1122, height: 743, background: "#fff" }}
    />
  );
}
